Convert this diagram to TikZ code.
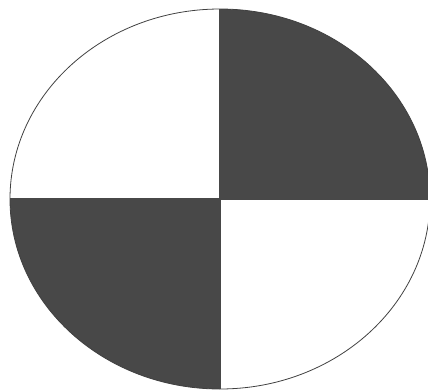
\documentclass[tikz,border=0pt]{standalone}
\usetikzlibrary{calc}
\definecolor{quadgray}{RGB}{72,72,72}
\tikzset{
  quadrant/.style={fill=quadgray},
  rim/.style={draw=black!75, line width=0.8pt}
}
\begin{document}
\begin{tikzpicture}[x=1pt,y=-1pt]
  \useasboundingbox (0,0) rectangle (428,389);
  \coordinate (C) at (220,199);
  % Shaded quadrants
  \begin{scope}
    \clip (C) ellipse (210 and 190);
    \fill[quadrant] (C) rectangle ++(215,-195);
    \fill[quadrant] (C) rectangle ++(-215,195);
  \end{scope}
  % Outline
  \draw[rim] (C) ellipse (210 and 190);
  \draw[quadgray, line width=1.2pt] ($(C)+(-210,0)$) -- ($(C)+(210,0)$);
  \draw[quadgray, line width=1.2pt] ($(C)+(0,-190)$) -- ($(C)+(0,190)$);
\end{tikzpicture}
\end{document}
